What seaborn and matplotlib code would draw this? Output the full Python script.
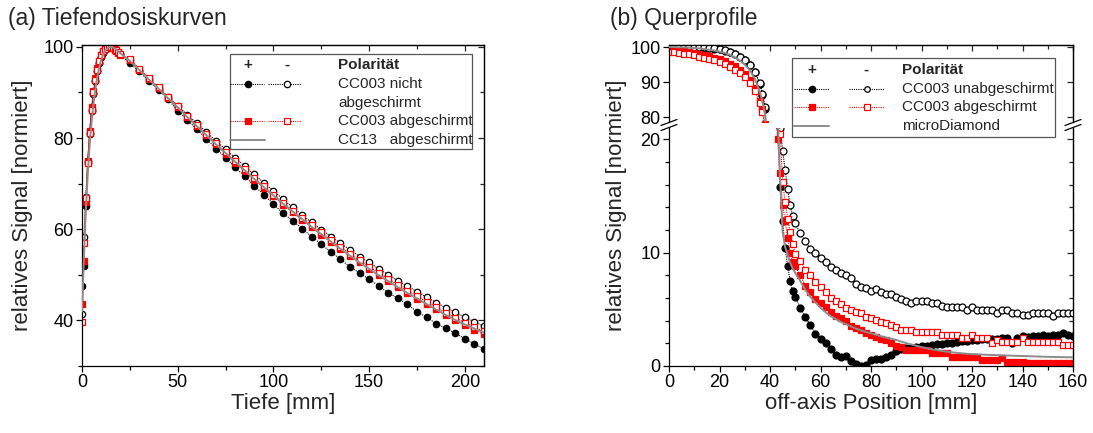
import numpy as np
import pandas as pd
import matplotlib
matplotlib.use("Agg")
import matplotlib.pyplot as plt
import seaborn as sns
from matplotlib.lines import Line2D
from matplotlib.patches import Rectangle
from matplotlib.ticker import MultipleLocator, FixedLocator

# ---------------- data: (a) depth dose curves ----------------
depth_mm = [0, 1, 2, 3, 4, 5, 6, 7, 8, 9, 10, 11, 12, 13, 14, 15, 16, 17, 18, 19, 20,
            25, 30, 35, 40, 45, 50, 55, 60, 65, 70, 75, 80, 85, 90, 95, 100,
            105, 110, 115, 120, 125, 130, 135, 140, 145, 150, 155, 160, 165, 170,
            175, 180, 185, 190, 195, 200, 205, 210]

pdd_cc003_unshielded_pos = [47.6, 52.0, 65.0, 74.5, 80.8, 86.2, 89.8, 92.6, 94.8, 96.5, 97.8,
                            98.8, 99.5, 99.9, 100.0, 99.9, 99.8, 99.5, 99.2, 98.8, 98.4,
                            96.4, 94.6, 92.4, 90.6, 88.5, 86.0, 84.0, 81.9, 79.8, 77.7, 75.7,
                            73.6, 71.6, 69.5, 67.6, 65.5,
                            63.5, 61.9, 60.1, 58.4, 56.7, 55.0, 53.5, 51.7, 50.4, 49.0, 47.6,
                            46.0, 44.9, 43.5, 41.9, 40.7, 39.3, 38.3, 37.2, 36.0, 34.8, 33.8]
pdd_cc003_unshielded_neg = [41.5, 58.4, 67.0, 75.0, 81.0, 86.0, 89.7, 92.5, 94.7, 96.4, 97.7,
                            98.7, 99.4, 99.8, 100.0, 100.0, 99.8, 99.5, 99.2, 98.8, 98.4,
                            97.1, 95.0, 93.0, 91.0, 89.0, 87.1, 85.1, 83.2, 81.3, 79.4, 77.5,
                            75.7, 73.8, 72.0, 70.2, 68.4,
                            66.6, 64.8, 63.1, 61.5, 59.9, 58.4, 56.9, 55.5, 54.0, 52.7, 51.3,
                            50.0, 48.7, 47.5, 46.3, 45.1, 43.9, 42.8, 41.8, 40.7, 39.7, 38.7]
pdd_cc003_shielded_pos = [43.7, 53.0, 66.0, 75.0, 81.5, 86.8, 90.3, 93.2, 95.3, 96.9, 98.2,
                          99.1, 99.7, 100.0, 100.0, 99.9, 99.7, 99.4, 99.1, 98.7, 98.3,
                          97.2, 95.0, 92.9, 90.9, 88.8, 86.8, 84.7, 82.6, 80.6, 78.6, 76.6,
                          74.6, 72.7, 70.8, 69.0, 67.2,
                          65.4, 63.7, 62.1, 60.4, 58.8, 57.2, 55.6, 54.1, 52.7, 51.3, 49.9,
                          48.6, 47.3, 46.0, 44.8, 43.6, 42.4, 41.2, 40.1, 39.0, 38.0, 37.0]
pdd_cc003_shielded_neg = [39.6, 57.0, 66.9, 74.6, 81.0, 86.2, 90.0, 92.8, 95.0, 96.8, 98.1,
                          99.0, 99.6, 99.9, 100.0, 100.0, 99.8, 99.5, 99.2, 98.8, 98.4,
                          97.3, 95.2, 93.1, 91.1, 89.0, 87.0, 84.9, 82.9, 80.9, 78.9, 76.9,
                          75.0, 73.1, 71.2, 69.4, 67.6,
                          65.8, 64.1, 62.5, 60.9, 59.3, 57.7, 56.1, 54.6, 53.2, 51.8, 50.4,
                          49.1, 47.8, 46.5, 45.3, 44.1, 42.9, 41.7, 40.6, 39.5, 38.5, 37.6]
pdd_cc13 = [42.0, 54.0, 64.0, 72.0, 78.5, 83.5, 87.5, 90.8, 93.4, 95.5, 97.1,
            98.3, 99.1, 99.6, 99.9, 100.0, 99.9, 99.7, 99.4, 99.0, 98.6,
            96.9, 94.9, 92.8, 90.8, 88.7, 86.7, 84.6, 82.6, 80.6, 78.6, 76.7,
            74.8, 72.9, 71.0, 69.2, 67.4,
            65.6, 63.9, 62.2, 60.5, 58.9, 57.3, 55.7, 54.2, 52.7, 51.3, 49.9,
            48.6, 47.3, 46.0, 44.8, 43.6, 42.4, 41.2, 40.1, 39.1, 38.2, 37.3]

# ---------------- data: (b) cross profiles ----------------
position_mm = list(range(0, 37, 2)) + list(range(37, 51)) + list(range(52, 161, 2))

prof_cc003_unshielded_pos = [100.3, 100.3, 100.2, 100.2, 100.1, 100.0, 99.9, 99.8, 99.7, 99.5,
                             99.3, 99.0, 98.6, 98.0, 97.2, 96.2, 94.8, 92.8, 89.6,
                             86.5, 82.5, 70.0, 55.0, 40.0, 28.0, 21.5, 15.8, 12.8, 10.4, 8.8, 7.5, 6.6, 6.1,
                             5.1, 4.3, 3.6, 2.85, 2.4, 2.0, 1.5, 1.0, 0.8, 0.85,
                             0.4, 0.15, 0.0, 0.05, 0.5, 0.6, 0.6, 0.8, 1.0, 1.3,
                             1.5, 1.55, 1.6, 1.7, 1.75, 1.8, 1.85, 1.9, 1.95, 2.0,
                             2.05, 2.1, 2.2, 2.25, 2.3, 2.3, 2.35, 2.4, 2.35, 2.4,
                             2.5, 2.45, 2.05, 2.5, 2.65, 2.6, 2.65, 2.65, 2.7, 2.65,
                             2.7, 2.75, 2.95, 2.75, 2.65]
prof_cc003_unshielded_neg = [100.4, 100.4, 100.3, 100.3, 100.2, 100.1, 100.0, 99.9, 99.8, 99.6,
                             99.4, 99.1, 98.7, 98.1, 97.3, 96.3, 94.9, 92.9, 89.7,
                             86.7, 83.0, 72.0, 58.0, 44.0, 32.0, 25.0, 21.0, 19.0, 17.3, 15.6, 14.2, 13.2, 12.6,
                             11.7, 11.0, 10.3, 9.95, 9.5, 9.15, 8.7, 8.45, 8.25, 8.0,
                             7.75, 7.2, 7.0, 6.85, 6.6, 6.8, 6.5, 6.35, 6.35, 6.1,
                             5.9, 5.75, 5.6, 5.76, 5.76, 5.76, 5.55, 5.55, 5.3, 5.24,
                             5.24, 5.24, 5.24, 4.94, 5.24, 4.94, 4.94, 4.94, 4.94, 4.71,
                             4.94, 4.94, 4.71, 4.71, 4.5, 4.5, 4.71, 4.71, 4.71, 4.71,
                             4.41, 4.71, 4.71, 4.71, 4.71]
prof_cc003_shielded_pos = [99.2, 99.1, 99.0, 98.8, 98.6, 98.3, 98.0, 97.7, 97.4, 97.0,
                           96.6, 96.0, 95.3, 94.5, 93.5, 92.3, 90.7, 88.4, 84.8,
                           82.4, 78.0, 65.0, 50.0, 36.0, 26.0, 20.0, 17.0, 14.2, 12.8, 11.3, 10.0, 9.2, 8.8,
                           8.0, 7.1, 6.5, 5.9, 5.6, 5.2, 4.75, 4.45, 4.25, 3.95,
                           3.5, 3.35, 3.2, 2.9, 2.75, 2.6, 2.35, 2.3, 2.0, 1.75,
                           1.7, 1.41, 1.41, 1.41, 1.41, 1.41, 1.12, 1.12, 1.12, 1.12,
                           0.82, 0.82, 0.82, 0.82, 0.82, 0.82, 0.53, 0.53, 0.53, 0.53,
                           0.68, 0.38, 0.38, 0.38, 0.38, 0.24, 0.24, 0.24, 0.24, 0.24,
                           0.24, 0.24, 0.24, 0.24, 0.24]
prof_cc003_shielded_neg = [98.6, 98.5, 98.3, 98.1, 97.9, 97.6, 97.3, 97.0, 96.6, 96.2,
                           95.7, 95.1, 94.4, 93.6, 92.6, 91.4, 89.9, 87.6, 84.0,
                           81.5, 77.0, 66.0, 52.0, 38.0, 28.0, 24.0, 20.5, 16.2, 14.5, 13.0, 11.8, 10.8, 9.9,
                           9.3, 8.5, 8.0, 7.4, 6.95, 6.5, 6.0, 5.7, 5.45, 5.15,
                           4.95, 4.75, 4.65, 4.35, 4.2, 4.1, 3.9, 3.8, 3.6, 3.47,
                           3.18, 3.18, 3.18, 3.03, 3.03, 3.03, 3.03, 3.03, 2.74, 2.74,
                           2.74, 2.74, 2.44, 2.44, 2.74, 2.44, 2.44, 2.44, 2.0, 2.3,
                           2.15, 2.15, 2.15, 2.15, 2.44, 2.15, 2.15, 2.15, 2.15, 2.15,
                           2.15, 2.15, 1.85, 1.85, 1.85]
prof_microdiamond = [100.0, 100.0, 99.9, 99.9, 99.8, 99.7, 99.6, 99.4, 99.2, 99.0,
                     98.7, 98.3, 97.8, 97.1, 96.2, 95.0, 93.4, 91.0, 87.2,
                     84.5, 81.0, 74.0, 60.0, 45.0, 32.0, 22.5, 16.5, 11.8, 10.5, 9.8, 9.1, 8.6, 8.2,
                     7.5, 6.7, 6.1, 5.6, 5.15, 4.75, 4.4, 4.15, 3.9, 3.7,
                     3.5, 3.3, 3.15, 3.0, 2.88, 2.75, 2.62, 2.5, 2.4, 2.3,
                     2.15, 2.02, 1.9, 1.78, 1.67, 1.57, 1.48, 1.4, 1.33, 1.27,
                     1.21, 1.16, 1.12, 1.08, 1.05, 1.03, 1.01, 0.99, 0.97, 0.96,
                     0.94, 0.92, 0.91, 0.89, 0.88, 0.87, 0.85, 0.84, 0.82, 0.81,
                     0.80, 0.79, 0.78, 0.77, 0.77]

pdd = pd.DataFrame({"depth": depth_mm,
                    "unsh_pos": pdd_cc003_unshielded_pos, "unsh_neg": pdd_cc003_unshielded_neg,
                    "sh_pos": pdd_cc003_shielded_pos, "sh_neg": pdd_cc003_shielded_neg,
                    "cc13": pdd_cc13})
prof = pd.DataFrame({"pos": position_mm,
                     "unsh_pos": prof_cc003_unshielded_pos, "unsh_neg": prof_cc003_unshielded_neg,
                     "sh_pos": prof_cc003_shielded_pos, "sh_neg": prof_cc003_shielded_neg,
                     "md": prof_microdiamond})

# ---------------- styling ----------------
sns.set_style("ticks")
plt.rcParams["font.family"] = ["Liberation Sans", "DejaVu Sans"]
plt.rcParams["axes.linewidth"] = 0.9

STYLES = {
    "unsh_pos": dict(color="black", marker="o", mfc="black"),
    "unsh_neg": dict(color="black", marker="o", mfc="white"),
    "sh_pos": dict(color="red", marker="s", mfc="red"),
    "sh_neg": dict(color="red", marker="s", mfc="white"),
}
GRAY = "#8c8c8c"
DOT = (0, (1, 1))
TICK_FS = 13
LABEL_FS = 16

W, H = 1093, 433
fig = plt.figure(figsize=(W / 100, H / 100), dpi=100)


def box(l, t, r, b):
    return [l / W, 1 - b / H, (r - l) / W, (b - t) / H]


def fpt(x, y):
    return (x / W, 1 - y / H)


axA = fig.add_axes(box(82, 45, 484, 366))
axBu = fig.add_axes(box(669, 45, 1073, 122))
axBl = fig.add_axes(box(669, 128, 1073, 366))


def draw_series(ax, df, xcol, key, ms):
    st = STYLES[key]
    sns.lineplot(data=df, x=xcol, y=key, ax=ax, estimator=None, sort=False,
                 color=st["color"], linestyle=DOT, linewidth=0.8,
                 marker=st["marker"], markersize=ms, markerfacecolor=st["mfc"],
                 markeredgecolor=st["color"], markeredgewidth=0.9, legend=False)


def draw_gray(ax, df, xcol, key):
    sns.lineplot(data=df, x=xcol, y=key, ax=ax, estimator=None, sort=False,
                 color=GRAY, linewidth=1.4, legend=False, zorder=5)


# ---- panel (a)
for k in ["unsh_pos", "unsh_neg", "sh_pos", "sh_neg"]:
    draw_series(axA, pdd, "depth", k, 4.6)
draw_gray(axA, pdd, "depth", "cc13")
axA.set_xlim(0, 210)
axA.set_ylim(30, 100.4)

# ---- panel (b)
for ax in (axBu, axBl):
    for k in ["unsh_pos", "unsh_neg", "sh_pos", "sh_neg"]:
        draw_series(ax, prof, "pos", k, 5.0)
    draw_gray(ax, prof, "pos", "md")
    ax.set_xlim(0, 160)
axBu.set_ylim(78.7, 100.57)
axBl.set_ylim(0, 21.0)


def style_ticks(ax, xmaj, xmin, ymaj, ymin, top=True, right=True, bottom=True):
    ax.xaxis.set_major_locator(MultipleLocator(xmaj))
    ax.xaxis.set_minor_locator(MultipleLocator(xmin))
    ax.yaxis.set_major_locator(ymaj)
    if ymin is not None:
        ax.yaxis.set_minor_locator(ymin)
    ax.tick_params(which="both", direction="out", top=False, right=False,
                   labelsize=TICK_FS, width=0.9, colors="black", pad=1.5)
    ax.tick_params(which="major", length=4.5)
    ax.tick_params(which="minor", length=2.8)
    if not bottom:
        ax.tick_params(axis="x", which="both", bottom=False, labelbottom=False)
    if top:
        sx = ax.secondary_xaxis("top")
        sx.xaxis.set_major_locator(MultipleLocator(xmaj))
        sx.xaxis.set_minor_locator(MultipleLocator(xmin))
        sx.tick_params(which="both", direction="in", labeltop=False, width=0.9)
        sx.tick_params(which="major", length=4.5)
        sx.tick_params(which="minor", length=2.8)
    if right:
        sy = ax.secondary_yaxis("right")
        sy.yaxis.set_major_locator(ymaj)
        if ymin is not None:
            sy.yaxis.set_minor_locator(ymin)
        sy.tick_params(which="both", direction="in", labelright=False, width=0.9)
        sy.tick_params(which="major", length=4.5)
        sy.tick_params(which="minor", length=2.8)


style_ticks(axA, 50, 25, MultipleLocator(20), MultipleLocator(10))
axA.yaxis.set_major_locator(FixedLocator([40, 60, 80, 100]))

style_ticks(axBu, 20, 10, FixedLocator([80, 90, 100]), None, top=True, right=True, bottom=False)
axBu.spines["bottom"].set_visible(False)
style_ticks(axBl, 20, 10, MultipleLocator(10), MultipleLocator(2), top=False, right=True)
axBl.spines["top"].set_visible(False)

for ax in (axA, axBu, axBl):
    ax.set_xlabel("")
    ax.set_ylabel("")
    for s in ax.spines.values():
        s.set_color("black")

# axis labels
XLAB_Y = 403
axA.set_xlabel("Tiefe [mm]", fontsize=LABEL_FS)
axA.xaxis.set_label_coords(283 / W, 1 - XLAB_Y / H, transform=fig.transFigure)
axA.xaxis.label.set_verticalalignment("center")
axA.set_ylabel("relatives Signal [normiert]", fontsize=LABEL_FS)
axA.yaxis.set_label_coords(*fpt(23, 205), transform=fig.transFigure)
axA.yaxis.label.set_verticalalignment("center")

axBl.set_xlabel("off-axis Position [mm]", fontsize=LABEL_FS)
axBl.xaxis.set_label_coords(871 / W, 1 - XLAB_Y / H, transform=fig.transFigure)
axBl.xaxis.label.set_verticalalignment("center")
axBl.set_ylabel("relatives Signal [normiert]", fontsize=LABEL_FS)
axBl.yaxis.set_label_coords(*fpt(617, 205), transform=fig.transFigure)
axBl.yaxis.label.set_verticalalignment("center")

# titles
fig.text(*fpt(8, 18), "(a) Tiefendosiskurven", fontsize=16.5, va="center", ha="left")
fig.text(*fpt(610, 18), "(b) Querprofile", fontsize=16.5, va="center", ha="left")

# broken axis marks
for xc in (669, 1073):
    for yc in (122.5, 127.5):
        fig.add_artist(Line2D([(xc - 8) / W, (xc + 8) / W],
                              [1 - (yc + 3) / H, 1 - (yc - 3) / H],
                              transform=fig.transFigure, color="black", lw=0.9, zorder=6))


# ---------------- manual legends ----------------
def legend_box(l, t, r, b):
    fig.add_artist(Rectangle(fpt(l, b), (r - l) / W, (b - t) / H, transform=fig.transFigure,
                             facecolor="white", edgecolor="#555555", linewidth=0.9, zorder=4))


def legend_sample(x0, x1, y, color, marker=None, mfc=None, xm=None, ls=DOT, lw=0.8, ms=5):
    fig.add_artist(Line2D([x0 / W, x1 / W], [1 - y / H] * 2, transform=fig.transFigure,
                          color=color, linestyle=ls, linewidth=lw, zorder=5))
    if marker:
        fig.add_artist(Line2D([xm / W], [1 - y / H], transform=fig.transFigure, marker=marker,
                              markersize=ms, markerfacecolor=mfc, markeredgecolor=color,
                              markeredgewidth=0.9, linestyle="none", zorder=6))


def legend_text(x, y, s, bold=False, ha="left"):
    fig.text(x / W, 1 - y / H, s, fontsize=11, va="center", ha=ha,
             fontweight="bold" if bold else "normal", zorder=7)


# legend (a)
legend_box(230, 54, 472, 149)
legend_text(248, 65, "+", bold=True, ha="center")
legend_text(287, 65, "-", bold=True, ha="center")
legend_text(338, 65, "Polarität", bold=True)
legend_sample(230, 264, 84, "black", "o", "black", 248, ms=4.6)
legend_sample(268, 301, 84, "black", "o", "white", 287, ms=4.6)
legend_text(338, 84, "CC003 nicht")
legend_text(338, 103, "abgeschirmt")
legend_sample(230, 264, 121, "red", "s", "red", 248, ms=4.6)
legend_sample(268, 301, 121, "red", "s", "white", 287, ms=4.6)
legend_text(338, 121, "CC003 abgeschirmt")
legend_sample(230, 265, 140, GRAY, ls="-", lw=1.4)
legend_text(338, 140, "CC13   abgeschirmt")

# legend (b)
legend_box(792, 58, 1055, 137)
legend_text(812, 70, "+", bold=True, ha="center")
legend_text(866, 70, "-", bold=True, ha="center")
legend_text(902, 70, "Polarität", bold=True)
legend_sample(794, 829, 89, "black", "o", "black", 812, ms=4.6)
legend_sample(849, 884, 89, "black", "o", "white", 867, ms=4.0)
legend_text(902, 89, "CC003 unabgeschirmt")
legend_sample(794, 829, 107, "red", "s", "red", 812, ms=4.6)
legend_sample(849, 884, 107, "red", "s", "white", 867, ms=4.0)
legend_text(902, 107, "CC003 abgeschirmt")
legend_sample(794, 829, 126, GRAY, ls="-", lw=1.4)
legend_text(902, 126, "microDiamond")

fig.savefig("out.png", dpi=100)
